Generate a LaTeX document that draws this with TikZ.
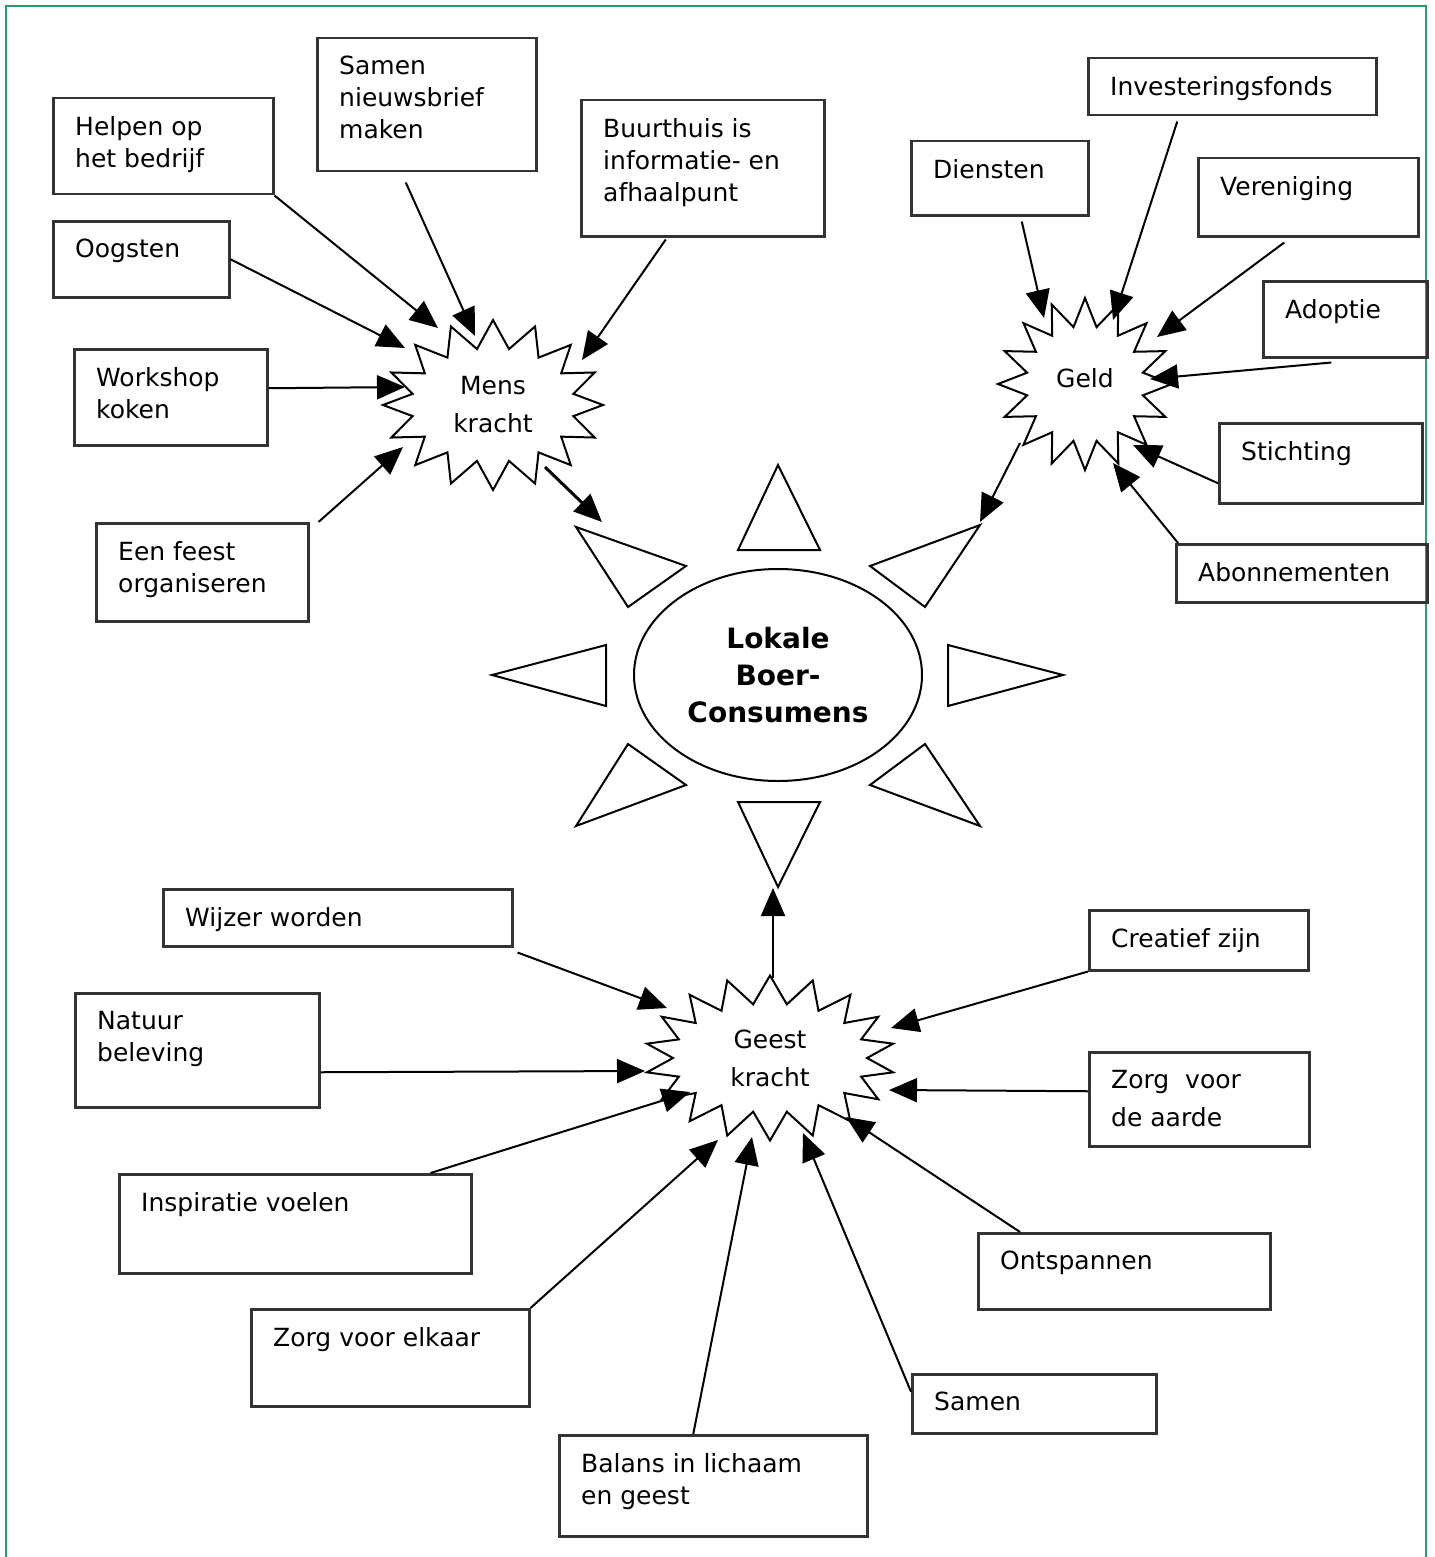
\documentclass[tikz,border=0pt]{standalone}
\usepackage{fontspec}
\setmainfont{DejaVu Sans}
\usetikzlibrary{shapes.symbols,shapes.geometric,arrows.meta}

\begin{document}
\begin{tikzpicture}[x=1pt,y=-1pt,
  box/.style={draw=black!80,line width=2.5pt,anchor=north west,inner sep=0pt,
    label={[lbl]north west:#1}},
  lbl/.style={anchor=north west,align=left,inner sep=0pt,xshift=23pt,yshift=-19pt,
    font=\fontsize{25}{32}\selectfont},
  burst/.style={draw,starburst,random starburst=0,line width=2pt,
    starburst point height=28pt,align=center,font=\fontsize{25}{38}\selectfont},
  arr/.style={-{Triangle[length=28pt,width=24pt]},line width=2pt},
  ray/.style={draw,line width=2pt,line join=miter}]
\useasboundingbox (0,0) rectangle (1434,1557);
\draw[line width=2pt,draw={rgb,255:red,46;green,154;blue,106}]
  (6,1557) -- (6,6) -- (1426,6) -- (1426,1557);

% centre
\node[ellipse,draw,line width=2pt,minimum width=288pt,minimum height=212pt,
  align=center,font=\bfseries\fontsize{28}{37}\selectfont] (lokaal) at (778,675)
  {Lokale\\Boer-\\Consumens};
\foreach \a/\b/\c in {{778,465}/{738,550}/{820,550},{980,525}/{870,566}/{925,607},
  {1063,675}/{948,645}/{948,706},{925,744}/{870,785}/{980,826},
  {738,802}/{820,802}/{778,887},{628,744}/{686,785}/{576,826},
  {492,675}/{606,645}/{606,706},{576,527}/{686,566}/{628,607}}
  \draw[ray] (\a) -- (\b) -- (\c) -- cycle;
\coordinate (raytl) at (602,522);
\coordinate (raytr) at (980,522);
\coordinate (rayb) at (773,888);

% stars
\node[burst,starburst points=16,minimum width=220pt,minimum height=170pt] (mens) at (493,405) {Mens\\kracht};
\node[burst,starburst points=16,minimum width=174pt,minimum height=172pt] (geld) at (1085,384) {\raisebox{12pt}{Geld}};
\node[burst,starburst points=18,minimum width=250pt,minimum height=165pt] (geest) at (770,1058) {Geest\\kracht};

% mens kracht
\node[box={Helpen op\\het bedrijf},minimum width=220pt,minimum height=96pt] (helpen) at (52,97) {};
\node[box={Samen\\nieuwsbrief\\maken},minimum width=219pt,minimum height=133pt] (nieuwsbrief) at (316,37) {};
\node[box={Buurthuis is\\informatie- en\\afhaalpunt},minimum width=243pt,minimum height=136pt] (buurthuis) at (580,99) {};
\node[box={Oogsten},minimum width=176pt,minimum height=76pt] (oogsten) at (52,220) {};
\node[box={Workshop\\koken},minimum width=193pt,minimum height=96pt] (workshop) at (73,348) {};
\node[box={Een feest\\organiseren},minimum width=212pt,minimum height=98pt] (feest) at (95,522) {};

\draw[arr] (helpen.south east) -- ([shift={(-55,-77)}]mens.center);
\draw[arr] ([shift={(-21,10)}]nieuwsbrief.south) -- ([shift={(-18,-69)}]mens.center);
\draw[arr] ([shift={(-37,2)}]buurthuis.south) -- ([shift={(89,-45)}]mens.center);
\draw[arr] (oogsten.east) -- ([shift={(-88,-57)}]mens.center);
\draw[arr] ([shift={(0,-9)}]workshop.east) -- ([shift={(-88,-18)}]mens.center);
\draw[arr] ([shift={(9,0)}]feest.north east) -- ([shift={(-90,42)}]mens.center);
\draw[arr,line width=3pt] ([shift={(52,62)}]mens.center) -- (raytl);

% geld
\node[box={Diensten},minimum width=177pt,minimum height=74pt] (diensten) at (910,140) {};
\node[box={Investeringsfonds},minimum width=288pt,minimum height=57pt] (fonds) at (1087,57) {};
\node[box={Vereniging},minimum width=220pt,minimum height=78pt] (vereniging) at (1197,157) {};
\node[box={Adoptie},minimum width=164pt,minimum height=76pt] (adoptie) at (1262,280) {};
\node[box={Stichting},minimum width=203pt,minimum height=80pt] (stichting) at (1218,422) {};
\node[box={Abonnementen},minimum width=251pt,minimum height=58pt] (abonnementen) at (1175,543) {};

\draw[arr] ([shift={(22,5)}]diensten.south) -- ([shift={(-41,-66)}]geld.center);
\draw[arr] ([shift={(-55,5)}]fonds.south) -- ([shift={(28,-64)}]geld.center);
\draw[arr] ([shift={(-24,5)}]vereniging.south) -- ([shift={(72,-47)}]geld.center);
\draw[arr] ([shift={(-14,4)}]adoptie.south) -- ([shift={(65,-5)}]geld.center);
\draw[arr] ([shift={(0,20)}]stichting.west) -- ([shift={(48,61)}]geld.center);
\draw[arr] ([shift={(3,0)}]abonnementen.north west) -- ([shift={(28,79)}]geld.center);
\draw[arr] ([shift={(-65,59)}]geld.center) -- (raytr);

% geest kracht
\node[box={Wijzer worden},minimum width=349pt,minimum height=57pt] (wijzer) at (162,888) {};
\node[box={Natuur\\beleving},minimum width=244pt,minimum height=114pt] (natuur) at (74,992) {};
\node[box={Inspiratie voelen},minimum width=352pt,minimum height=99pt,
  every label/.append style={yshift=-6pt}] (inspiratie) at (118,1173) {};
\node[box={Zorg voor elkaar},minimum width=278pt,minimum height=97pt] (elkaar) at (250,1308) {};
\node[box={Balans in lichaam\\en geest},minimum width=308pt,minimum height=101pt] (balans) at (558,1434) {};
\node[box={Samen},minimum width=244pt,minimum height=59pt] (samen) at (911,1373) {};
\node[box={Ontspannen},minimum width=292pt,minimum height=76pt] (ontspannen) at (977,1232) {};
\node[box={Zorg~~voor\\[6pt]de aarde},minimum width=220pt,minimum height=94pt,
  every label/.append style={yshift=-6pt}] (aarde) at (1088,1051) {};
\node[box={Creatief zijn},minimum width=219pt,minimum height=60pt] (creatief) at (1088,909) {};

\draw[arr] ([shift={(4,5)}]wijzer.south east) -- ([shift={(-103,-50)}]geest.center);
\draw[arr] ([shift={(0,22)}]natuur.east) -- ([shift={(-125,13)}]geest.center);
\draw[arr] ([shift={(-42,0)}]inspiratie.north east) -- ([shift={(-80,34)}]geest.center);
\draw[arr] (elkaar.north east) -- ([shift={(-52,82)}]geest.center);
\draw[arr] ([shift={(-20,0)}]balans.north) -- ([shift={(-18,79)}]geest.center);
\draw[arr] ([shift={(0,-12)}]samen.west) -- ([shift={(33,75)}]geest.center);
\draw[arr] ([shift={(43,0)}]ontspannen.north west) -- ([shift={(76,59)}]geest.center);
\draw[arr] ([shift={(0,-8)}]aarde.west) -- ([shift={(119,32)}]geest.center);
\draw[arr] (creatief.south west) -- ([shift={(121,-30)}]geest.center);
\draw[arr] ([shift={(3,-80)}]geest.center) -- (rayb);
\end{tikzpicture}
\end{document}
